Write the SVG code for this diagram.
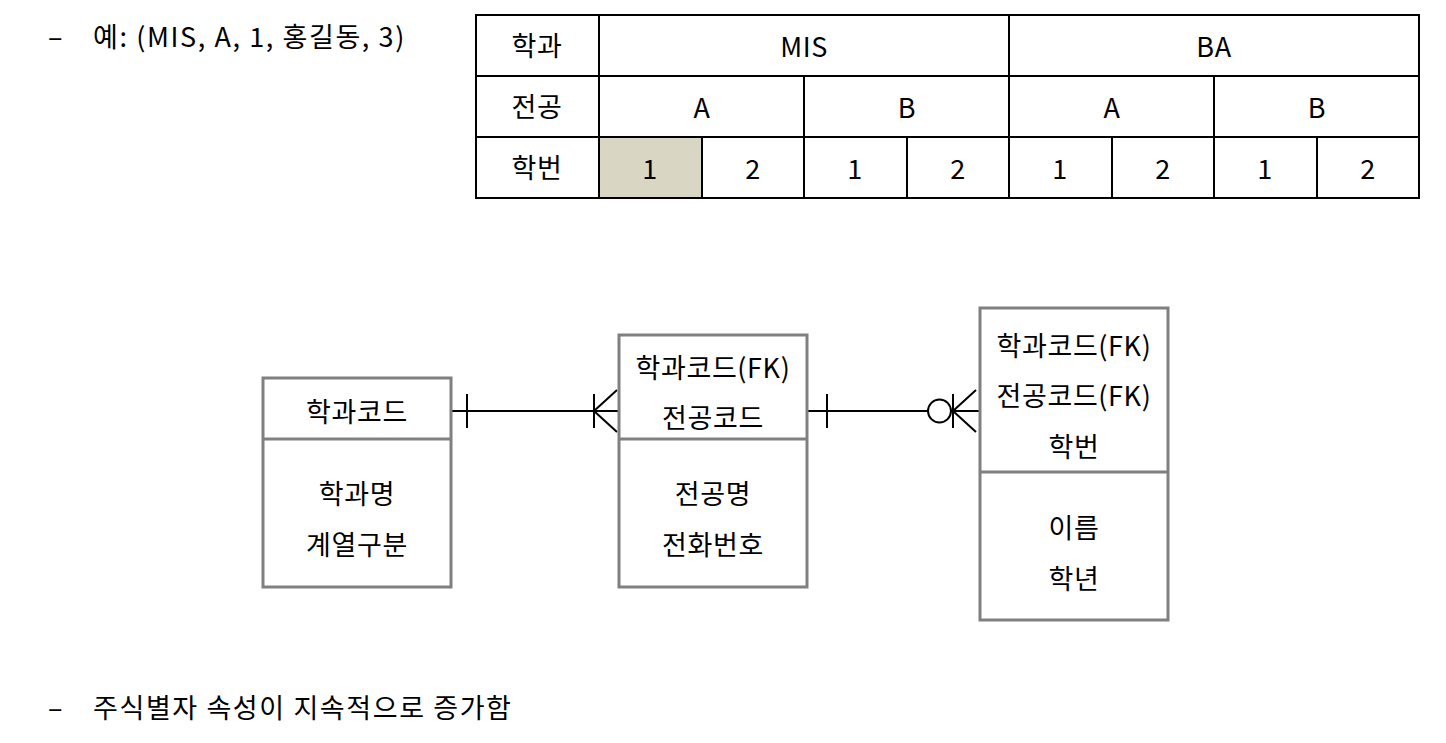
<svg xmlns="http://www.w3.org/2000/svg" width="1446" height="743" viewBox="0 0 1446 743">
<style>
text{font-family:"Noto Sans CJK KR","Liberation Sans",sans-serif;font-size:27px;letter-spacing:0.6px;fill:#000;}
.c{text-anchor:middle;}
.tb{fill:none;stroke:#000;stroke-width:2;}
.ent{fill:#fff;stroke:#808080;stroke-width:3;}
.div{stroke:#808080;stroke-width:3;}
.ln{stroke:#000;stroke-width:2;fill:none;}
.b{letter-spacing:1.6px;}
</style>
<rect width="1446" height="743" fill="#fff"/>
<g id="bullet1">
<text x="48" y="47">–</text>
<text class="b" x="93" y="47">예: (MIS, A, 1, 홍길동, 3)</text>
</g>
<g id="table">
<rect x="599" y="137" width="103" height="61" fill="#d9d6c3"/>
<rect class="tb" x="476" y="15" width="943" height="183"/>
<line class="tb" x1="476" y1="76" x2="1419" y2="76"/>
<line class="tb" x1="476" y1="137" x2="1419" y2="137"/>
<line class="tb" x1="599" y1="15" x2="599" y2="198"/>
<line class="tb" x1="1009" y1="15" x2="1009" y2="198"/>
<line class="tb" x1="804" y1="76" x2="804" y2="198"/>
<line class="tb" x1="1214" y1="76" x2="1214" y2="198"/>
<line class="tb" x1="702" y1="137" x2="702" y2="198"/>
<line class="tb" x1="907" y1="137" x2="907" y2="198"/>
<line class="tb" x1="1112" y1="137" x2="1112" y2="198"/>
<line class="tb" x1="1317" y1="137" x2="1317" y2="198"/>
<text class="c" x="537" y="56">학과</text>
<text class="c" x="537" y="117">전공</text>
<text class="c" x="537" y="178">학번</text>
<text class="c" x="804" y="57">MIS</text>
<text class="c" x="1214" y="57">BA</text>
<text class="c" x="702" y="118">A</text>
<text class="c" x="907" y="118">B</text>
<text class="c" x="1112" y="118">A</text>
<text class="c" x="1317" y="118">B</text>
<text class="c" x="650" y="179">1</text>
<text class="c" x="753" y="179">2</text>
<text class="c" x="855" y="179">1</text>
<text class="c" x="958" y="179">2</text>
<text class="c" x="1060" y="179">1</text>
<text class="c" x="1163" y="179">2</text>
<text class="c" x="1265" y="179">1</text>
<text class="c" x="1368" y="179">2</text>
</g>
<g id="connectors">
<line class="ln" x1="451" y1="411" x2="619" y2="411"/>
<line class="ln" x1="467" y1="394" x2="467" y2="428"/>
<line class="ln" x1="594" y1="394" x2="594" y2="428"/>
<polyline class="ln" points="617,390 594,411 617,432"/>
<line class="ln" x1="807" y1="411" x2="928" y2="411"/>
<line class="ln" x1="951" y1="411" x2="980" y2="411"/>
<line class="ln" x1="827" y1="394" x2="827" y2="428"/>
<circle class="ln" cx="939.5" cy="411" r="11.5"/>
<line class="ln" x1="953" y1="394" x2="953" y2="428"/>
<polyline class="ln" points="976,390 953,411 976,432"/>
</g>
<g id="entity-dept">
<rect class="ent" x="263" y="378" width="188" height="209"/>
<line class="div" x1="263" y1="439" x2="451" y2="439"/>
<text class="c" x="357" y="422">학과코드</text>
<text class="c" x="357" y="504">학과명</text>
<text class="c" x="357" y="555">계열구분</text>
</g>
<g id="entity-major">
<rect class="ent" x="619" y="335" width="188" height="252"/>
<line class="div" x1="619" y1="439" x2="807" y2="439"/>
<text class="c" x="713" y="378">학과코드(FK)</text>
<text class="c" x="713" y="428">전공코드</text>
<text class="c" x="713" y="504">전공명</text>
<text class="c" x="713" y="555">전화번호</text>
</g>
<g id="entity-student">
<rect class="ent" x="980" y="308" width="188" height="312"/>
<line class="div" x1="980" y1="472" x2="1168" y2="472"/>
<text class="c" x="1074" y="356">학과코드(FK)</text>
<text class="c" x="1074" y="406">전공코드(FK)</text>
<text class="c" x="1074" y="457">학번</text>
<text class="c" x="1074" y="538">이름</text>
<text class="c" x="1074" y="589">학년</text>
</g>
<g id="bullet2">
<text x="48" y="718">–</text>
<text class="b" x="93" y="718">주식별자 속성이 지속적으로 증가함</text>
</g>
</svg>
